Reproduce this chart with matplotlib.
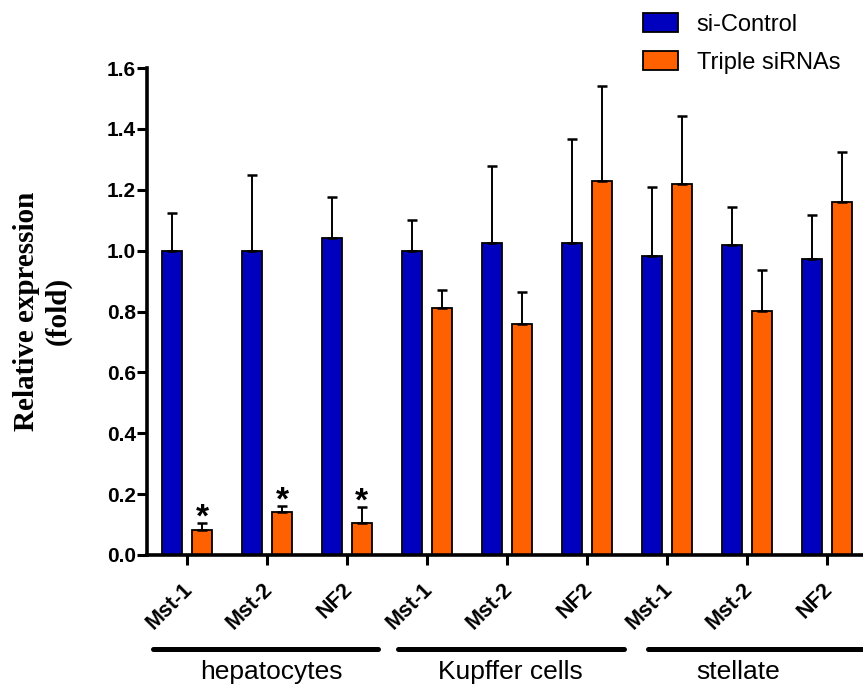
import matplotlib
matplotlib.use("Agg")
import matplotlib.pyplot as plt
import matplotlib.transforms as mtransforms
import numpy as np

genes = ["Mst-1", "Mst-2", "NF2", "Mst-1", "Mst-2", "NF2", "Mst-1", "Mst-2", "NF2"]
cell_types = ["hepatocytes", "Kupffer cells", "stellate"]
series_names = ["si-Control", "Triple siRNAs"]

control_mean = [1.00, 1.00, 1.042, 1.00, 1.026, 1.026, 0.982, 1.018, 0.972]
control_err = [0.123, 0.248, 0.135, 0.10, 0.251, 0.341, 0.228, 0.126, 0.146]
triple_mean = [0.082, 0.142, 0.106, 0.812, 0.759, 1.229, 1.219, 0.802, 1.159]
triple_err = [0.022, 0.019, 0.053, 0.060, 0.106, 0.313, 0.223, 0.134, 0.166]
significant = [True, True, True, False, False, False, False, False, False]

blue = "#0000BF"
orange = "#FF6000"

W, H = 863, 689
fig = plt.figure(figsize=(W / 100, H / 100), dpi=100)
ax = fig.add_axes([147 / W, 1 - 555 / H, (866.7 - 147) / W, (555 - 68) / H])

x = np.arange(len(genes))
bw = 0.25
off = 0.1875
err_kw = dict(ecolor="black", elinewidth=1.4, capsize=3.8, capthick=1.8)

ax.bar(x - off, control_mean, bw, color=blue, edgecolor="black", linewidth=1.3,
       yerr=[np.zeros(len(x)), control_err], error_kw=err_kw, label=series_names[0], zorder=2)
ax.bar(x + off, triple_mean, bw, color=orange, edgecolor="black", linewidth=1.3,
       yerr=[np.zeros(len(x)), triple_err], error_kw=err_kw, label=series_names[1], zorder=2)

for i, sig in enumerate(significant):
    if sig:
        ax.text(x[i] + off, triple_mean[i] + triple_err[i] - 0.035, "*",
                ha="center", va="bottom", fontsize=24, fontweight="bold",
                family="Liberation Sans")

ax.set_xlim(-0.5, 8.5)
ax.set_ylim(0, 1.6)
yt = np.arange(0, 1.61, 0.2)
ax.set_yticks(yt)
ax.set_yticklabels([f"{v:.1f}" for v in yt],
                   fontsize=15, fontweight="bold", family="Liberation Sans")
ax.set_xticks(x)
ax.set_xticklabels(genes, rotation=45, ha="right", rotation_mode="anchor",
                   fontsize=15.5, fontweight="bold", family="Liberation Sans")
ax.tick_params(axis="both", width=2.2, length=7, direction="out")
ax.tick_params(axis="y", pad=1)
ax.tick_params(axis="x", pad=10)
shift = mtransforms.ScaledTranslation(-5 / 100, 0, fig.dpi_scale_trans)
for lbl in ax.get_xticklabels():
    lbl.set_transform(lbl.get_transform() + shift)

for s in ["top", "right"]:
    ax.spines[s].set_visible(False)
for s in ["left", "bottom"]:
    ax.spines[s].set_linewidth(2.6)

fig.text(42 / W, 1 - 311 / H, "Relative expression\n(fold)", rotation=90,
         ha="center", va="center", family="Liberation Serif", fontweight="bold",
         fontsize=21, linespacing=1.2, multialignment="center")

# group brackets under the gene labels
group_spans = [(153, 378), (398, 624), (648, 880)]
label_x = [271, 510, 738]
for (x0, x1), xc, name in zip(group_spans, label_x, cell_types):
    y = 1 - 649 / H
    fig.add_artist(plt.Line2D([x0 / W, x1 / W], [y, y], color="black", lw=3.6,
                              solid_capstyle="round"))
    fig.text(xc / W, 1 - 679 / H, name, ha="center", va="baseline",
             fontsize=19, family="Liberation Sans")

fig.legend(loc="upper left", bbox_to_anchor=(643 / W, 1 - 13 / H), frameon=False,
           borderpad=0, borderaxespad=0,
           prop={"family": "Liberation Sans", "size": 17},
           handlelength=1.48, handleheight=0.85, handletextpad=0.8, labelspacing=0.65)

fig.savefig("out.png", dpi=100)
